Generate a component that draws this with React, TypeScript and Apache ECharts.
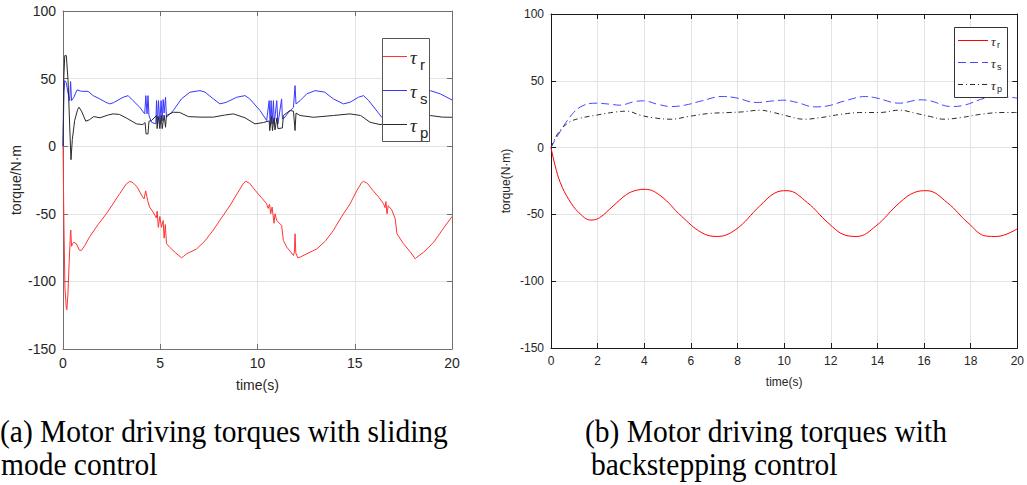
import React, { useEffect, useRef } from "react";
import * as echarts from "echarts";

// ---- Data: (a) sliding mode control ----
const smcTauR: [number, number][] = [
  [0, 0], [0.05, -60], [0.1, -105], [0.17, -120], [0.2, -121], [0.25, -110], [0.32, -85], [0.38, -65], [0.4, -62],
  [0.44, -74], [0.5, -72], [0.55, -71], [0.68, -72], [0.85, -77], [0.95, -77], [1.1, -74], [1.37, -67], [1.8, -58],
  [2.23, -50], [2.6, -42], [2.92, -35], [3.25, -28], [3.43, -26], [3.6, -27], [3.8, -30], [4.1, -37.7], [4.17, -39],
  [4.25, -33], [4.35, -40], [4.45, -45], [4.6, -48], [4.8, -53], [4.84, -48], [4.9, -60], [4.98, -52], [5.06, -60],
  [5.15, -55], [5.2, -68], [5.26, -58], [5.32, -72], [5.5, -75], [5.8, -79], [6.09, -82.5], [6.2, -81.5], [6.35, -79.6],
  [6.87, -76], [7.3, -70], [7.73, -62], [8.15, -53], [8.58, -44], [9.0, -34], [9.3, -27], [9.4, -26], [9.6, -27.5],
  [9.9, -33], [10.2, -38], [10.47, -42.6], [10.55, -46], [10.62, -43], [10.68, -50], [10.75, -45], [10.85, -57],
  [10.9, -50], [10.99, -55], [11.24, -58.6], [11.33, -69.7], [11.5, -74.6], [11.85, -80.8], [11.9, -78], [11.93, -64.8],
  [11.97, -79], [12.07, -82.5], [12.2, -82], [12.53, -79.6], [13.05, -76], [13.5, -70], [13.9, -62.3], [14.33, -52],
  [14.76, -42.6], [15.1, -33], [15.35, -27], [15.45, -26], [15.65, -27.5], [15.95, -33], [16.25, -38], [16.48, -42.6],
  [16.56, -45.5], [16.6, -41], [16.66, -50], [16.72, -44], [16.9, -47], [17.08, -53.7], [17.17, -64.8], [17.5, -72],
  [17.9, -79], [18.11, -83.3], [18.2, -82], [18.54, -78.4], [19.06, -71], [19.5, -62], [20, -52],
];
const smcTauS: [number, number][] = [
  [0, 0], [0.05, 40], [0.09, 48.5], [0.17, 47], [0.25, 40], [0.34, 33.7], [0.39, 47.8], [0.44, 33.7], [0.55, 36],
  [0.72, 41.6], [0.95, 40.6], [1.29, 40.6], [1.55, 37.4], [1.89, 35], [2.2, 32.5], [2.4, 31.3], [2.6, 32.2], [3.09, 36.2],
  [3.35, 37.4], [3.6, 33.7], [3.95, 28.8], [4.2, 23.9], [4.26, 37.4], [4.32, 23.9], [4.37, 37.4], [4.42, 22.7],
  [4.55, 17.7], [4.77, 16.5], [4.81, 33.7], [4.86, 16.5], [4.91, 33.7], [4.98, 16.5], [5.04, 33.7], [5.1, 18.7],
  [5.15, 34.5], [5.2, 24.5], [5.27, 36.2], [5.32, 21.4], [5.67, 26.4], [6.09, 35], [6.52, 39.9], [7.04, 41.1], [7.3, 40],
  [7.73, 35], [8.07, 31.3], [8.4, 32.5], [8.93, 36.2], [9.36, 37.4], [9.6, 35], [10.13, 26.4], [10.47, 19], [10.6, 33.7],
  [10.65, 16.5], [10.7, 33.7], [10.75, 16.5], [10.82, 33.7], [10.86, 16.5], [10.99, 33.7], [11.05, 16.5], [11.24, 35],
  [11.28, 20.2], [11.33, 20.2], [11.6, 25], [11.85, 28.8], [11.93, 44.8], [11.98, 31.3], [12.19, 33.7], [12.53, 38.7],
  [12.96, 41.1], [13.45, 40], [13.9, 35], [14.42, 31.3], [14.76, 32.5], [15.19, 36.2], [15.45, 37.4], [15.7, 34],
  [16.39, 21.4], [16.7, 18], [17.2, 25], [17.8, 35], [18.4, 40], [18.88, 41.1], [19.4, 38.7], [20, 34.2],
];
const smcTauP: [number, number][] = [
  [0, 0], [0.04, 50], [0.09, 67], [0.17, 67], [0.26, 48.5], [0.34, 16.5], [0.41, -10], [0.48, 5], [0.6, 19], [0.75, 27],
  [0.82, 28.8], [0.95, 26], [1.17, 18.5], [1.35, 19.5], [1.58, 21.9], [1.9, 21], [2.3, 23], [2.58, 23.9], [2.9, 23.5],
  [3.3, 20.5], [3.78, 16.5], [4.1, 16], [4.22, 17.5], [4.27, 9.1], [4.37, 9.1], [4.42, 18.5], [4.55, 19], [4.81, 22.7],
  [4.84, 13], [4.9, 22], [4.98, 13], [5.05, 22.7], [5.1, 13], [5.2, 23], [5.27, 14], [5.32, 22.7], [5.67, 25.1], [6.0, 25],
  [6.44, 21.9], [7.04, 21.5], [7.73, 21.5], [8.3, 23], [8.76, 23.9], [9.36, 21], [9.87, 16.5], [10.3, 17.5], [10.6, 18.7],
  [10.63, 11.5], [10.72, 22], [10.77, 11.5], [10.85, 21], [10.9, 12], [11.0, 21], [11.05, 13], [11.28, 13.5],
  [11.33, 22.7], [11.67, 26.4], [11.85, 25.9], [11.93, 11.6], [11.98, 24.5], [12.19, 22.7], [12.88, 21.4], [13.9, 22.7],
  [14.76, 23.9], [15.3, 22.7], [15.79, 17.7], [16.3, 16], [16.8, 17], [17.5, 21], [18.2, 22.5], [18.88, 22.7],
  [19.5, 21.5], [20, 21.4],
];

// ---- Data: (b) backstepping control ----
const bsTauR: [number, number][] = [
  [0, 0], [0.18, -13.75], [0.4, -26.25], [0.76, -38.75], [1.2, -48.75], [1.71, -54.25], [2.08, -52.5], [2.66, -43.75],
  [3.25, -35], [3.65, -32], [4.05, -31.25], [4.71, -36.25], [5.59, -51.25], [6.47, -63.75], [7.13, -66.5], [7.93, -61.25],
  [8.95, -43.75], [9.6, -34], [10.12, -32.25], [11, -41.25], [11.88, -56.25], [12.61, -65.5], [13.12, -66.5],
  [13.93, -58.75], [14.95, -41.25], [15.6, -33.5], [16.12, -32.25], [17, -41.25], [17.88, -56.25], [18.68, -66.25],
  [19.12, -66.5], [20, -60.75],
];
const bsTauS: [number, number][] = [
  [0, 0], [0.32, 10], [0.91, 25], [1.35, 31.25], [1.93, 33.25], [2.52, 32.5], [2.96, 31.75], [3.54, 34.25], [3.98, 35],
  [4.56, 32.5], [5.15, 30.75], [5.74, 31.75], [6.47, 35], [7.34, 38.25], [7.93, 37.25], [8.81, 33.75], [9.54, 35],
  [9.98, 35.5], [10.56, 33.75], [11.29, 30.5], [11.88, 31.25], [12.61, 35], [13.49, 38.25], [13.93, 37.25],
  [14.95, 33.25], [15.83, 35.75], [16.27, 35], [17.15, 30.75], [17.73, 31.75], [18.61, 37], [19.34, 38.25], [20, 37],
];
const bsTauP: [number, number][] = [
  [0, 0], [0.32, 11.25], [0.76, 18.75], [1.2, 21.75], [1.93, 24.25], [2.81, 26.75], [3.25, 27.25], [3.83, 24.25],
  [4.42, 22.25], [5.15, 21.25], [5.88, 23.25], [6.76, 25.5], [7.64, 26.25], [8.22, 26.75], [8.95, 28], [9.54, 26.25],
  [10.12, 23.75], [10.85, 21.25], [11.59, 22.5], [12.47, 25], [13.34, 26.25], [14.07, 26.25], [14.95, 28],
  [15.68, 25.5], [16.27, 23.25], [16.85, 21.25], [17.59, 22.5], [18.46, 25], [19.34, 26.25], [20, 26.25],
];

const yTicksMin = -150;
const yTicksMax = 100;
const legendSubs = ["r", "s", "p"];
const captionA = ["(a) Motor driving torques with sliding", "mode control"];
const captionB = ["(b) Motor driving torques with", "backstepping control"];

const sans = "Liberation Sans, Arial, sans-serif";
const serif = "Liberation Serif, Times New Roman, serif";

const colorsA = ["#ff3333", "#3838ff", "#2a2a2a"];
const colorsB = ["#ff0000", "#4646ff", "#2a2a2a"];
const dashB: any[] = ["solid", [8, 4], [5, 3, 1, 3]];

function makeAxes(grid: number, xInterval: number, frame: string, fontSize: number, xName: string, yName: string, xNameGap: number, yNameGap: number) {
  const tick = { show: true, inside: true, length: 5, lineStyle: { color: frame, width: 1 } };
  const line = { show: true, onZero: false, lineStyle: { color: frame, width: 1 } };
  const split = { show: true, lineStyle: { color: "#e3e3e3", width: 1 } };
  const label = { show: true, fontSize, color: "#262626", fontFamily: sans };
  const xs = [
    {
      type: "value", gridIndex: grid, position: "bottom", min: 0, max: 20, interval: xInterval,
      axisLine: line, axisTick: tick, splitLine: split, axisLabel: { ...label, margin: 7 },
      name: xName, nameLocation: "middle", nameGap: xNameGap,
      nameTextStyle: { fontSize, color: "#262626", fontFamily: sans },
    },
    {
      type: "value", gridIndex: grid, position: "top", min: 0, max: 20, interval: xInterval,
      axisLine: line, axisTick: tick, splitLine: { show: false }, axisLabel: { show: false },
    },
  ];
  const ys = [
    {
      type: "value", gridIndex: grid, position: "left", min: yTicksMin, max: yTicksMax, interval: 50,
      axisLine: line, axisTick: tick, splitLine: split, axisLabel: { ...label, margin: 7 },
      name: yName, nameLocation: "middle", nameGap: yNameGap,
      nameTextStyle: { fontSize, color: "#262626", fontFamily: sans },
    },
    {
      type: "value", gridIndex: grid, position: "right", min: yTicksMin, max: yTicksMax, interval: 50,
      axisLine: line, axisTick: tick, splitLine: { show: false }, axisLabel: { show: false },
    },
  ];
  return { xs, ys };
}

// legend drawn as graphic elements (box, line samples, τ with subscripts)
function legendGraphic(box: { x: number; y: number; w: number; h: number; stroke: string },
  lineX: [number, number], rows: number[], colors: string[], dashes: any[],
  tauX: number, tauSize: number, tauDy: number, subX: number, subSize: number, subDy: number) {
  const els: any[] = [
    { type: "rect", z: 100, shape: { x: box.x + 0.5, y: box.y + 0.5, width: box.w, height: box.h },
      style: { fill: "#ffffff", stroke: box.stroke, lineWidth: 1 } },
  ];
  rows.forEach((ry, i) => {
    els.push({ type: "line", z: 101, shape: { x1: lineX[0], y1: ry + 0.5, x2: lineX[1], y2: ry + 0.5 },
      style: { stroke: colors[i], lineWidth: 1, lineDash: dashes[i] === "solid" ? null : dashes[i] } });
    els.push({ type: "text", z: 101, x: tauX, y: ry + tauDy,
      style: { text: "τ", font: `italic ${tauSize}px ${serif}`, fill: "#262626", verticalAlign: "middle" } });
    els.push({ type: "text", z: 101, x: subX, y: ry + subDy,
      style: { text: legendSubs[i], font: `${subSize}px ${sans}`, fill: "#262626", verticalAlign: "middle" } });
  });
  return els;
}

export default function App() {
  const ref = useRef<HTMLDivElement>(null);
  useEffect(() => {
    if (!ref.current) return;
    const chart = echarts.init(ref.current, undefined, { renderer: "svg" });
    const a = makeAxes(0, 5, "#707070", 14, "time(s)", "torque/N·m", 29, 40);
    const b = makeAxes(1, 2, "#1a1a1a", 12, "time(s)", "torque(N·m)", 28, 39);

    const mk = (name: string, data: [number, number][], idx: number, color: string, type: any, smooth: any) => ({
      name, type: "line", data, xAxisIndex: idx * 2, yAxisIndex: idx * 2, symbol: "none", smooth,
      lineStyle: { color, width: 1, type }, itemStyle: { color }, z: 3,
    });

    const cap = (text: string, x: number, y: number) => ({
      type: "text", x, y, scaleY: 1.06,
      style: { text, font: `29.5px ${serif}`, fill: "#000", verticalAlign: "middle" },
    });

    chart.setOption({
      animation: false,
      backgroundColor: "#ffffff",
      grid: [
        { left: 63, top: 11, width: 389, height: 338 },
        { left: 551, top: 14, width: 468, height: 334 },
      ],
      xAxis: [...a.xs, ...b.xs],
      yAxis: [...a.ys, ...b.ys],
      series: [
        mk("τr (a)", smcTauR, 0, colorsA[0], "solid", false),
        mk("τs (a)", smcTauS, 0, colorsA[1], "solid", false),
        mk("τp (a)", smcTauP, 0, colorsA[2], "solid", false),
        mk("τr (b)", bsTauR, 1, colorsB[0], dashB[0], 0.4),
        mk("τs (b)", bsTauS, 1, colorsB[1], dashB[1], 0.4),
        mk("τp (b)", bsTauP, 1, colorsB[2], dashB[2], 0.4),
      ],
      graphic: [
        ...legendGraphic({ x: 382, y: 38, w: 47, h: 103, stroke: "#555" }, [383, 407], [56, 90, 124],
          colorsA, ["solid", "solid", "solid"], 410, 19, 1, 420, 15, 8),
        ...legendGraphic({ x: 954, y: 27, w: 53, h: 70, stroke: "#333" }, [958, 988], [40, 62, 84],
          colorsB, dashB, 991, 13, 1, 997, 9, 5),
        cap(captionA[0], 0, 432),
        cap(captionA[1], 1, 465),
        cap(captionB[0], 585, 432),
        cap(captionB[1], 591, 465),
      ],
    });
    return () => chart.dispose();
  }, []);
  return <div ref={ref} style={{ position: "fixed", left: 0, top: 0, width: 1027, height: 485, background: "#fff" }} />;
}
